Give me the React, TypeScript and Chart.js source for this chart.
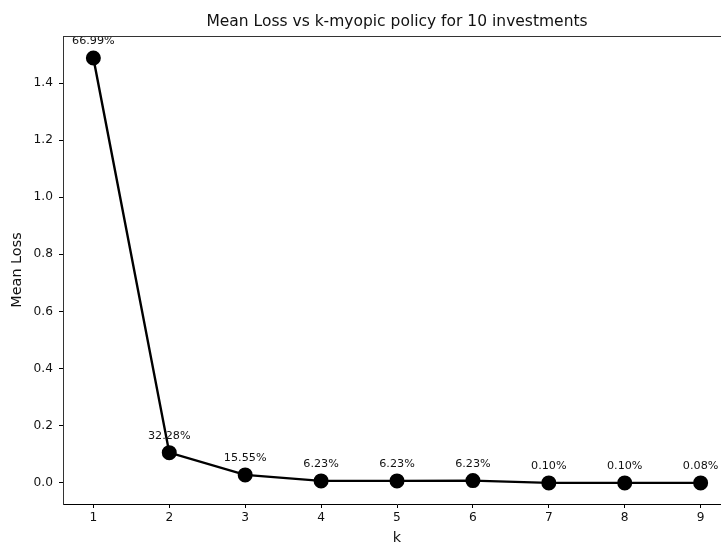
import React, { useEffect, useRef } from "react";
import { Chart, registerables } from "chart.js";

Chart.register(...registerables);

const kValues = [1, 2, 3, 4, 5, 6, 7, 8, 9];
const meanLoss = [1.488, 0.105, 0.027, 0.006, 0.006, 0.007, -0.001, -0.001, -0.001];
const pointLabels = ["66.99%", "32.28%", "15.55%", "6.23%", "6.23%", "6.23%", "0.10%", "0.10%", "0.08%"];
const yTicks = [0, 0.2, 0.4, 0.6, 0.8, 1.0, 1.2, 1.4];
const titleText = "Mean Loss vs k-myopic policy for 10 investments";

const FONT = "'DejaVu Sans', sans-serif";

const labelPlugin = {
  id: "pointLabels",
  afterDatasetsDraw(chart: any) {
    const ctx = chart.ctx;
    const meta = chart.getDatasetMeta(0);
    ctx.save();
    ctx.font = `11.2px ${FONT}`;
    ctx.fillStyle = "#111";
    ctx.textAlign = "center";
    ctx.textBaseline = "middle";
    meta.data.forEach((pt: any, i: number) => {
      ctx.fillText(pointLabels[i], pt.x, pt.y - 17);
    });
    ctx.restore();
  },
};

const frameTitlePlugin = {
  id: "frameTitle",
  afterDraw(chart: any) {
    const { ctx, chartArea } = chart;
    ctx.save();
    ctx.strokeStyle = "#333";
    ctx.lineWidth = 1;
    ctx.beginPath();
    ctx.moveTo(chartArea.left, chartArea.top + 0.5);
    ctx.lineTo(chartArea.right, chartArea.top + 0.5);
    ctx.stroke();
    ctx.font = `15.5px ${FONT}`;
    ctx.fillStyle = "#111";
    ctx.textAlign = "center";
    ctx.textBaseline = "middle";
    ctx.fillText(titleText, (chartArea.left + chartArea.right) / 2, 22);
    ctx.restore();
  },
};

export default function App() {
  const ref = useRef<HTMLCanvasElement>(null);
  useEffect(() => {
    document.body.style.margin = "0";
    const chart = new Chart(ref.current!, {
      type: "line",
      data: {
        datasets: [
          {
            data: kValues.map((k, i) => ({ x: k, y: meanLoss[i] })),
            borderColor: "#000",
            backgroundColor: "#000",
            borderWidth: 2.4,
            pointRadius: 6.3,
            pointBackgroundColor: "#000",
            pointBorderColor: "#000",
            tension: 0,
          },
        ],
      },
      options: {
        animation: false,
        responsive: false,
        layout: { padding: { left: 0, right: 29, top: 36, bottom: 0 } },
        plugins: {
          legend: { display: false },
          tooltip: { enabled: false },
          title: { display: false },
        },
        scales: {
          x: {
            type: "linear",
            min: 0.6,
            max: 9.4,
            afterBuildTicks: (s: any) => {
              s.ticks = kValues.map((v) => ({ value: v }));
            },
            afterFit: (s: any) => {
              s.height = 48;
            },
            grid: { display: true, drawOnChartArea: false, drawTicks: true, tickLength: 4, color: "#000" },
            border: { display: true, color: "#000", width: 1 },
            ticks: {
              color: "#111",
              font: { family: FONT, size: 12.2 },
              padding: 3,
              callback: (v: any) => String(v),
            },
            title: {
              display: true,
              text: "k",
              color: "#111",
              font: { family: FONT, size: 14.4 },
              padding: { top: 0, bottom: 5 },
            },
          },
          y: {
            type: "linear",
            min: -0.075,
            max: 1.565,
            afterBuildTicks: (s: any) => {
              s.ticks = yTicks.map((v) => ({ value: v }));
            },
            afterFit: (s: any) => {
              s.width = 63;
            },
            grid: { display: true, drawOnChartArea: false, drawTicks: true, tickLength: 4, color: "#000" },
            border: { display: true, color: "#333", width: 1 },
            ticks: {
              color: "#111",
              font: { family: FONT, size: 12.2 },
              padding: 6,
              callback: (v: any) => Number(v).toFixed(1),
            },
            title: {
              display: true,
              text: "Mean Loss",
              color: "#111",
              font: { family: FONT, size: 14.4 },
              padding: { top: 9, bottom: 0 },
            },
          },
        },
      },
      plugins: [labelPlugin, frameTitlePlugin],
    });
    return () => chart.destroy();
  }, []);
  return (
    <div style={{ position: "fixed", left: 0, top: 0, width: 721, height: 542, overflow: "hidden", background: "#fff" }}>
      <canvas ref={ref} width={760} height={552} style={{ display: "block" }} />
    </div>
  );
}
